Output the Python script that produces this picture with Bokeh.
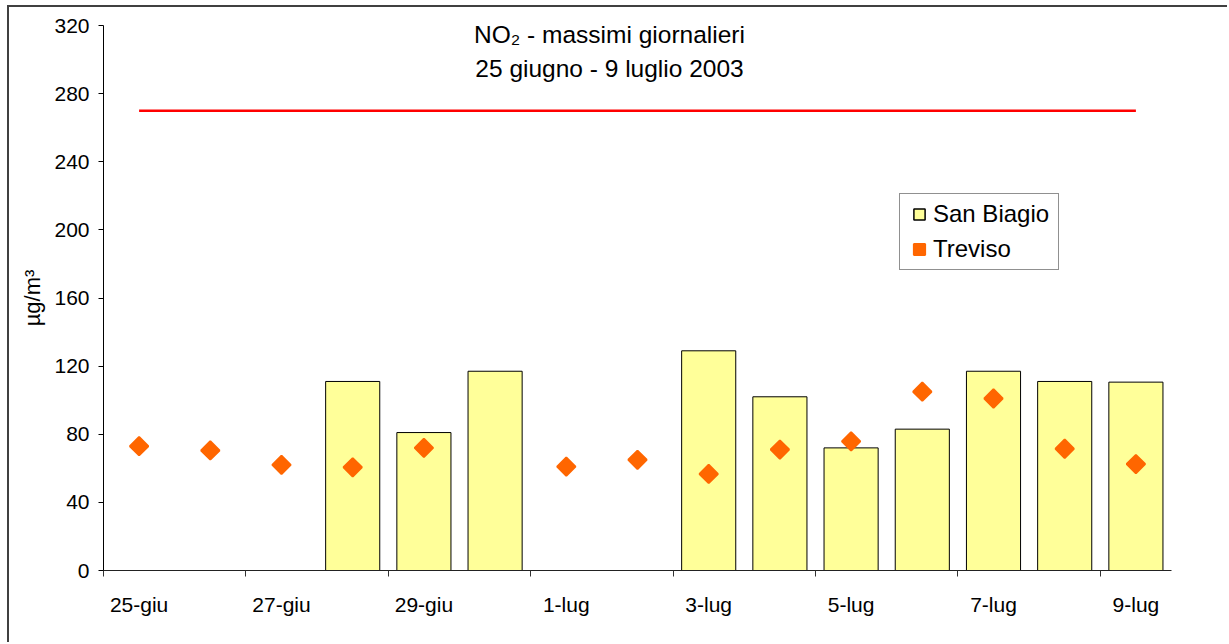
import math
from bokeh.plotting import figure
from bokeh.models import (Range1d, LinearAxis, FixedTicker, Label,
                          Legend, LegendItem, ColumnDataSource)
from bokeh.embed import file_html
from bokeh.resources import INLINE

# ---------------- data ----------------
days = ["25-giu", "26-giu", "27-giu", "28-giu", "29-giu", "30-giu", "1-lug",
        "2-lug", "3-lug", "4-lug", "5-lug", "6-lug", "7-lug", "8-lug", "9-lug"]
san_biagio = [None, None, None, 111, 81, 117, None,
              None, 129, 102, 72, 83, 117, 111, 110.6]
treviso = [73, 70.5, 62, 60.6, 72, None, 61,
           65, 56.7, 71, 75.8, 105, 101, 71.5, 62.5]
limit_value = 270
tick_labels = ["25-giu", "27-giu", "29-giu", "1-lug", "3-lug", "5-lug", "7-lug", "9-lug"]
y_ticks = [0, 40, 80, 120, 160, 200, 240, 280, 320]
title_lines = ["NO\u2082 - massimi giornalieri", "25 giugno - 9 luglio 2003"]
y_label = "\u00b5g/m\u00b3"

FONT = "Liberation Sans"
nan = float("nan")
n = len(days)
slot = [i + 0.5 for i in range(n)]          # centre of each day's slot

src = ColumnDataSource(dict(
    x=slot,
    day=days,
    sb=[nan if v is None else v for v in san_biagio],
    tv=[nan if v is None else v for v in treviso],
    lim=[limit_value] * n,
))

W, H = 1220, 637
p = figure(width=W, height=H, output_backend="svg", toolbar_location=None,
           x_range=Range1d(0, n), y_range=Range1d(0, 320), x_axis_location=None,
           min_border_left=94, min_border_right=58, min_border_top=18,
           min_border_bottom=74)
p.styles = {"margin-left": "7px", "margin-top": "5px",
            "border-left": "2px solid #404040", "border-top": "2px solid #404040"}
p.outline_line_color = None
p.grid.visible = False
p.background_fill_color = "white"
p.border_fill_color = "white"

# y axis
ya = p.yaxis[0]
ya.ticker = FixedTicker(ticks=y_ticks)
ya.minor_tick_line_color = None
ya.major_tick_in = 0
ya.major_tick_out = 5
ya.axis_line_color = "black"
ya.major_tick_line_color = "black"
ya.major_label_text_font = FONT
ya.major_label_text_font_size = "21px"
ya.major_label_text_color = "black"
ya.major_label_standoff = 9
ya.axis_label = y_label
ya.axis_label_text_font = FONT
ya.axis_label_text_font_size = "22px"
ya.axis_label_text_font_style = "normal"
ya.axis_label_text_color = "black"
ya.axis_label_standoff = 6

# x axis: labels on every second slot centre, tick marks on every second slot boundary
bound_ticks = list(range(0, n, 2))
center_ticks = [slot[i] for i in range(0, n, 2)]

xa = LinearAxis(ticker=FixedTicker(ticks=center_ticks, minor_ticks=bound_ticks))
xa.axis_line_color = "#222222"
xa.major_tick_in = 0
xa.major_tick_out = 0
xa.major_tick_line_color = None
xa.minor_tick_in = 0
xa.minor_tick_out = 6
xa.minor_tick_line_color = "#333333"
xa.major_label_overrides = {t: lab for t, lab in zip(center_ticks, tick_labels)}
xa.major_label_text_font = FONT
xa.major_label_text_font_size = "21px"
xa.major_label_text_color = "black"
xa.major_label_standoff = 16
p.add_layout(xa, "below")

# glyphs
bars = p.vbar(x="x", top="sb", bottom=0, width=0.76, source=src,
              fill_color="#FFFF99", line_color="black", line_width=1)
p.line(x="x", y="lim", source=src, line_color="#FF0000", line_width=2.5)
pts = p.scatter(x="x", y="tv", source=src, marker="square", angle=math.pi / 4,
                size=13, fill_color="#FF6600", line_color="#FF6600", line_width=2)
# legend key for the bars (a point with no position, only shown in the legend)
sb_key = p.scatter(x=[nan], y=[nan], marker="square", size=15,
                   fill_color="#FFFF99", line_color="black", line_width=1.5)

legend = Legend(items=[LegendItem(label="San Biagio", renderers=[sb_key]),
                       LegendItem(label="Treviso", renderers=[pts])],
                location=(796, 300), orientation="vertical")
legend.label_text_font = FONT
legend.label_text_font_size = "24px"
legend.label_text_color = "black"
legend.glyph_width = 28
legend.glyph_height = 30
legend.label_height = 30
legend.label_width = 120
legend.label_standoff = 0
legend.spacing = 5
legend.padding = 5
legend.margin = 0
legend.border_line_color = "#222222"
legend.border_line_width = 1
legend.background_fill_color = "white"
legend.background_fill_alpha = 1
p.add_layout(legend, "center")

# title inside plot area
for txt, yy in zip(title_lines, [536, 502]):
    p.add_layout(Label(x=506, y=yy, x_units="screen", y_units="screen", text=txt,
                       text_align="center", text_baseline="middle",
                       text_font=FONT, text_font_size="24.5px", text_color="black"))

open("out.html", "w").write(file_html(p, INLINE))
